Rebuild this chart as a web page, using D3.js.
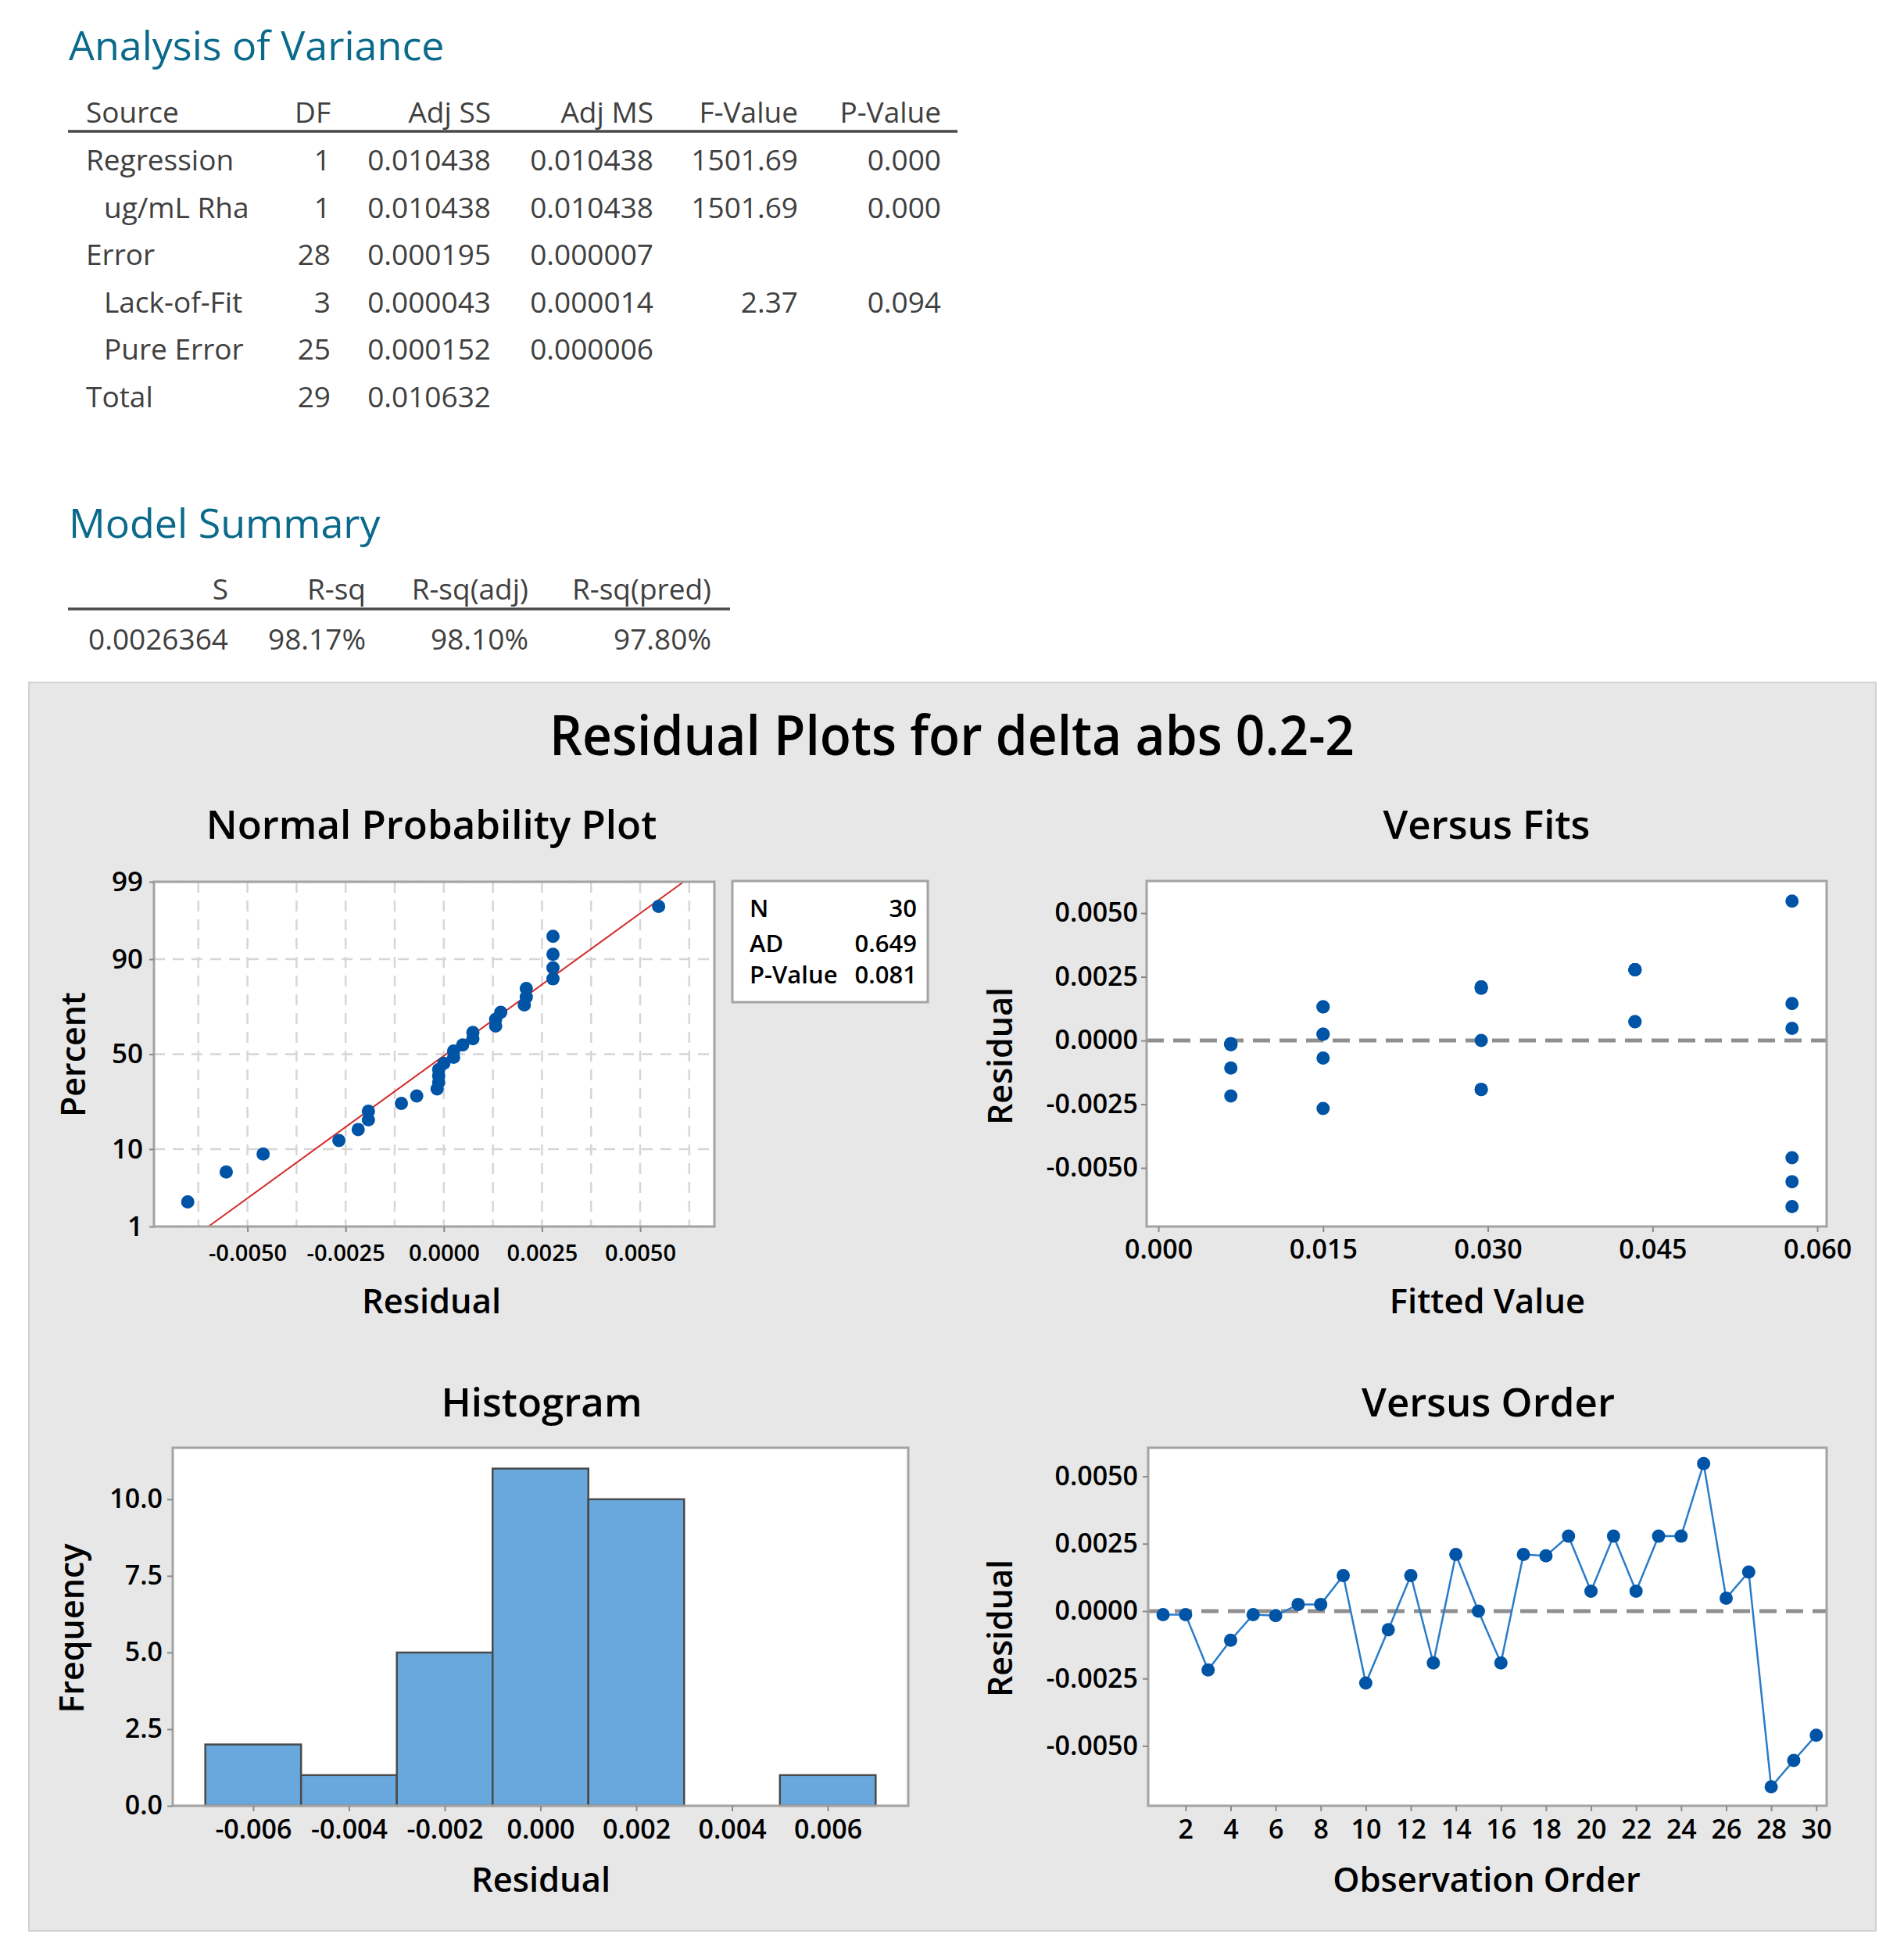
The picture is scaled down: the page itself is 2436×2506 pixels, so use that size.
<!DOCTYPE html>
<html>
<head>
<meta charset="utf-8">
<script src="https://cdn.jsdelivr.net/npm/d3@7"></script>
<style>
  html, body { margin: 0; padding: 0; background: #ffffff; }
  svg { display: block; }
</style>
</head>
<body>
<svg id="chart" width="2436" height="2506"></svg>
<script>
// ---------------- DATA ----------------
const anovaHeaders = ["Source", "DF", "Adj SS", "Adj MS", "F-Value", "P-Value"];
const anovaSource = ["Regression", "ug/mL Rha", "Error", "Lack-of-Fit", "Pure Error", "Total"];
const anovaIndent = [false, true, false, true, true, false];
const anovaDF = ["1", "1", "28", "3", "25", "29"];
const anovaAdjSS = ["0.010438", "0.010438", "0.000195", "0.000043", "0.000152", "0.010632"];
const anovaAdjMS = ["0.010438", "0.010438", "0.000007", "0.000014", "0.000006", ""];
const anovaFValue = ["1501.69", "1501.69", "", "2.37", "", ""];
const anovaPValue = ["0.000", "0.000", "", "0.094", "", ""];

const summaryHeaders = ["S", "R-sq", "R-sq(adj)", "R-sq(pred)"];
const summaryValues = ["0.0026364", "98.17%", "98.10%", "97.80%"];

// residuals in observation order
const residuals = [-0.00013, -0.00013, -0.00218, -0.00108, -0.00013, -0.00017,
                    0.00025,  0.00025,  0.00132, -0.00267, -0.00069,  0.00132,
                   -0.00192,  0.00210,  0.00000, -0.00192,  0.00210,  0.00205,
                    0.00278,  0.00074,  0.00278,  0.00074,  0.00278,  0.00278,
                    0.00547,  0.00048,  0.00145, -0.00652, -0.00554, -0.00460];
// fitted values per observation
const fittedValues = [0.0066, 0.0066, 0.0066, 0.0066, 0.0066, 0.0066,
                      0.0150, 0.0150, 0.0150, 0.0150, 0.0150, 0.0150,
                      0.0294, 0.0294, 0.0294, 0.0294, 0.0294, 0.0294,
                      0.0434, 0.0434, 0.0434, 0.0434, 0.0434, 0.0434,
                      0.0577, 0.0577, 0.0577, 0.0577, 0.0577, 0.0577];

const histBinStart = [-0.007, -0.005, -0.003, -0.001, 0.001, 0.003, 0.005];
const histBinEnd   = [-0.005, -0.003, -0.001, 0.001, 0.003, 0.005, 0.007];
const histCounts   = [2, 1, 5, 11, 10, 0, 1];

const npStatLabels = ["N", "AD", "P-Value"];
const npStatValues = ["30", "0.649", "0.081"];

const npPercentTicks = [1, 10, 50, 90, 99];
const npResidualTicks = [-0.005, -0.0025, 0, 0.0025, 0.005];
const npGridX = [-0.00625, -0.005, -0.00375, -0.0025, -0.00125, 0, 0.00125, 0.0025, 0.00375, 0.005, 0.00625];
const residualTicks = [-0.005, -0.0025, 0, 0.0025, 0.005];
const fitTicks = [0, 0.015, 0.03, 0.045, 0.06];
const histXTicks = [-0.006, -0.004, -0.002, 0, 0.002, 0.004, 0.006];
const histYTicks = [0, 2.5, 5, 7.5, 10];
const orderTicks = [2, 4, 6, 8, 10, 12, 14, 16, 18, 20, 22, 24, 26, 28, 30];

// ---------------- HELPERS ----------------
const FONT = "'Open Sans', 'Noto Sans', 'DejaVu Sans', sans-serif";
const loc = d3.formatLocale({decimal: ".", thousands: ",", grouping: [3], currency: ["$", ""], minus: "-"});
const f4 = loc.format(".4f"), f3 = loc.format(".3f"), f1 = loc.format(".1f");

function probit(p) {
  const a = [-3.969683028665376e+01, 2.209460984245205e+02, -2.759285104469687e+02, 1.383577518672690e+02, -3.066479806614716e+01, 2.506628277459239e+00];
  const b = [-5.447609879822406e+01, 1.615858368580409e+02, -1.556989798598866e+02, 6.680131188771972e+01, -1.328068155288572e+01];
  const c = [-7.784894002430293e-03, -3.223964580411365e-01, -2.400758277161838e+00, -2.549732539343734e+00, 4.374664141464968e+00, 2.938163982698783e+00];
  const d = [7.784695709041462e-03, 3.224671290700398e-01, 2.445134137142996e+00, 3.754408661907416e+00];
  const pl = 0.02425, ph = 1 - pl;
  let q, r;
  if (p < pl) { q = Math.sqrt(-2 * Math.log(p)); return (((((c[0]*q+c[1])*q+c[2])*q+c[3])*q+c[4])*q+c[5]) / ((((d[0]*q+d[1])*q+d[2])*q+d[3])*q+1); }
  if (p <= ph) { q = p - 0.5; r = q*q; return (((((a[0]*r+a[1])*r+a[2])*r+a[3])*r+a[4])*r+a[5])*q / (((((b[0]*r+b[1])*r+b[2])*r+b[3])*r+b[4])*r+1); }
  q = Math.sqrt(-2 * Math.log(1 - p));
  return -(((((c[0]*q+c[1])*q+c[2])*q+c[3])*q+c[4])*q+c[5]) / ((((d[0]*q+d[1])*q+d[2])*q+d[3])*q+1);
}

const svg = d3.select("#chart");
svg.append("rect").attr("width", 2436).attr("height", 2506).attr("fill", "#ffffff");

function txt(g, x, y, s, opts = {}) {
  const t = g.append("text").attr("x", x).attr("y", y).text(s)
    .attr("font-family", FONT)
    .attr("font-size", opts.size || 37)
    .attr("font-weight", opts.weight || 400)
    .attr("fill", opts.fill || "#404040")
    .attr("text-anchor", opts.anchor || "start");
  if (opts.len) t.attr("textLength", opts.len).attr("lengthAdjust", "spacingAndGlyphs");
  return t;
}

// ---------------- ANOVA TABLE ----------------
const tbl = svg.append("g");
const TEAL = "#0b6a8b";
txt(tbl, 88, 77, "Analysis of Variance", {size: 52, fill: TEAL});
const anovaRight = [null, 423, 628, 836, 1021, 1204];
anovaHeaders.forEach((h, i) => {
  if (i === 0) txt(tbl, 110, 157, h);
  else txt(tbl, anovaRight[i], 157, h, {anchor: "end"});
});
tbl.append("line").attr("x1", 87).attr("x2", 1225).attr("y1", 168).attr("y2", 168)
  .attr("stroke", "#4a4a4a").attr("stroke-width", 3.5);
const anovaCols = [anovaDF, anovaAdjSS, anovaAdjMS, anovaFValue, anovaPValue];
const rowY = d3.scaleLinear().domain([0, 5]).range([218, 521]);
anovaSource.forEach((s, r) => {
  txt(tbl, anovaIndent[r] ? 133 : 110, rowY(r), s);
  anovaCols.forEach((col, c) => {
    if (col[r]) txt(tbl, anovaRight[c + 1], rowY(r), col[r], {anchor: "end"});
  });
});

// ---------------- MODEL SUMMARY ----------------
txt(tbl, 88, 688, "Model Summary", {size: 52, fill: TEAL});
const sumRight = [292, 468, 676, 910];
summaryHeaders.forEach((h, i) => txt(tbl, sumRight[i], 767, h, {anchor: "end"}));
tbl.append("line").attr("x1", 87).attr("x2", 934).attr("y1", 779).attr("y2", 779)
  .attr("stroke", "#4a4a4a").attr("stroke-width", 3.5);
summaryValues.forEach((v, i) => txt(tbl, sumRight[i], 831, v, {anchor: "end"}));

// ---------------- GRAPH PANEL ----------------
const panel = svg.append("g");
panel.append("rect").attr("x", 37).attr("y", 873).attr("width", 2363).attr("height", 1597)
  .attr("fill", "#e7e7e7").attr("stroke", "#d2d2d2").attr("stroke-width", 2);
txt(panel, 1218, 966, "Residual Plots for delta abs 0.2-2", {size: 70, weight: 600, fill: "#000", anchor: "middle", len: 1030});

const BLUE = "#0054a6", LINEBLUE = "#2a7cc8", FRAME = "#a3a3a3";
const DOT_R = 8.5;

function styleAxis(g, size) {
  g.select(".domain").remove();
  g.selectAll(".tick line").attr("stroke", "#8a8a8a").attr("stroke-width", 2);
  g.selectAll(".tick text").attr("font-family", FONT).attr("font-size", size)
    .attr("font-weight", 600).attr("fill", "#000");
}
function frame(g, x0, y0, x1, y1) {
  g.append("rect").attr("x", x0).attr("y", y0).attr("width", x1 - x0).attr("height", y1 - y0)
    .attr("fill", "none").attr("stroke", FRAME).attr("stroke-width", 3);
}
function plotBg(g, x0, y0, x1, y1) {
  g.append("rect").attr("x", x0).attr("y", y0).attr("width", x1 - x0).attr("height", y1 - y0).attr("fill", "#ffffff");
}
function yTitle(g, x, y, s) {
  g.append("text").attr("transform", `translate(${x},${y}) rotate(-90)`).text(s)
    .attr("font-family", FONT).attr("font-size", 43).attr("font-weight", 600)
    .attr("fill", "#000").attr("text-anchor", "middle");
}
function xTitle(g, x, y, s) {
  txt(g, x, y, s, {size: 43.5, weight: 600, fill: "#000", anchor: "middle"});
}
function subTitle(g, x, y, s) {
  txt(g, x, y, s, {size: 51, weight: 600, fill: "#000", anchor: "middle"});
}

// ---------- Normal Probability Plot ----------
{
  const g = panel.append("g");
  const L = 197, R = 914, T = 1128, B = 1569;
  subTitle(g, 552, 1073, "Normal Probability Plot");
  plotBg(g, L, T, R, B);
  const x = d3.scaleLinear().domain([-0.00738, 0.00689]).range([L, R]);
  const y = d3.scaleLinear().domain([probit(0.01), probit(0.99)]).range([B, T]);
  g.selectAll(".gx").data(npGridX).join("line")
    .attr("x1", d => x(d)).attr("x2", d => x(d)).attr("y1", T).attr("y2", B)
    .attr("stroke", "#d6d6d6").attr("stroke-width", 2.5).attr("stroke-dasharray", "14,10");
  g.selectAll(".gy").data(npPercentTicks).join("line")
    .attr("x1", L).attr("x2", R).attr("y1", d => y(probit(d / 100))).attr("y2", d => y(probit(d / 100)))
    .attr("stroke", "#d6d6d6").attr("stroke-width", 2.5).attr("stroke-dasharray", "14,10");
  const mu = d3.mean(residuals), sd = d3.deviation(residuals);
  const zs = [probit(0.01), probit(0.99)];
  g.append("line").attr("x1", x(mu + sd * zs[0])).attr("y1", y(zs[0]))
    .attr("x2", x(mu + sd * zs[1])).attr("y2", y(zs[1]))
    .attr("stroke", "#d42a2a").attr("stroke-width", 2);
  const sorted = residuals.slice().sort(d3.ascending);
  const n = sorted.length;
  g.selectAll(".np").data(sorted).join("circle")
    .attr("cx", d => x(d))
    .attr("cy", (d, i) => y(probit((i + 1 - 0.3) / (n + 0.4))))
    .attr("r", DOT_R).attr("fill", BLUE);
  frame(g, L, T, R, B);
  const ax = g.append("g").attr("transform", `translate(0,${B})`)
    .call(d3.axisBottom(x).tickValues(npResidualTicks).tickFormat(f4).tickSize(7).tickPadding(16));
  styleAxis(ax, 29);
  const ay = g.append("g").attr("transform", `translate(${L},0)`)
    .call(d3.axisLeft(y).tickValues(npPercentTicks.map(p => probit(p / 100)))
      .tickFormat((d, i) => String(npPercentTicks[i])).tickSize(6).tickPadding(8));
  styleAxis(ay, 35);
  xTitle(g, 552, 1680, "Residual");
  yTitle(g, 109, 1349, "Percent");
  g.append("rect").attr("x", 937).attr("y", 1127).attr("width", 250).attr("height", 155)
    .attr("fill", "#ffffff").attr("stroke", FRAME).attr("stroke-width", 3);
  const sy = [1173, 1218, 1258];
  npStatLabels.forEach((l, i) => {
    txt(g, 959, sy[i], l, {size: 31, weight: 600, fill: "#000"});
    txt(g, 1173, sy[i], npStatValues[i], {size: 31, weight: 600, fill: "#000", anchor: "end"});
  });
}

// ---------- Versus Fits ----------
{
  const g = panel.append("g");
  const L = 1467, R = 2337, T = 1127, B = 1569;
  subTitle(g, 1902, 1073, "Versus Fits");
  plotBg(g, L, T, R, B);
  const x = d3.scaleLinear().domain([-0.00107, 0.06085]).range([L, R]);
  const y = d3.scaleLinear().domain([-0.0073, 0.00626]).range([B, T]);
  g.append("line").attr("x1", L).attr("x2", R).attr("y1", y(0)).attr("y2", y(0))
    .attr("stroke", "#8f8f8f").attr("stroke-width", 5).attr("stroke-dasharray", "22,12");
  g.selectAll(".vf").data(residuals).join("circle")
    .attr("cx", (d, i) => x(fittedValues[i])).attr("cy", d => y(d))
    .attr("r", DOT_R).attr("fill", BLUE);
  frame(g, L, T, R, B);
  const ax = g.append("g").attr("transform", `translate(0,${B})`)
    .call(d3.axisBottom(x).tickValues(fitTicks).tickFormat(f3).tickSize(7).tickPadding(10));
  styleAxis(ax, 34);
  const ay = g.append("g").attr("transform", `translate(${L},0)`)
    .call(d3.axisLeft(y).tickValues(residualTicks).tickFormat(f4).tickSize(7).tickPadding(4));
  styleAxis(ay, 34);
  xTitle(g, 1903, 1680, "Fitted Value");
  yTitle(g, 1295, 1351, "Residual");
}

// ---------- Histogram ----------
{
  const g = panel.append("g");
  const L = 221, R = 1162, T = 1852, B = 2310;
  subTitle(g, 693, 1812, "Histogram");
  plotBg(g, L, T, R, B);
  const x = d3.scaleLinear().domain([-0.00768, 0.00768]).range([L, R]);
  const y = d3.scaleLinear().domain([0, 11.68]).range([B, T]);
  g.selectAll(".bar").data(histCounts).join("rect")
    .attr("x", (d, i) => x(histBinStart[i]))
    .attr("width", (d, i) => x(histBinEnd[i]) - x(histBinStart[i]))
    .attr("y", d => y(d)).attr("height", d => B - y(d))
    .attr("fill", "#68a8dc").attr("stroke", "#4a4a4a").attr("stroke-width", 2.5);
  frame(g, L, T, R, B);
  const ax = g.append("g").attr("transform", `translate(0,${B})`)
    .call(d3.axisBottom(x).tickValues(histXTicks).tickFormat(f3).tickSize(7).tickPadding(11));
  styleAxis(ax, 34);
  const ay = g.append("g").attr("transform", `translate(${L},0)`)
    .call(d3.axisLeft(y).tickValues(histYTicks).tickFormat(f1).tickSize(7).tickPadding(6));
  styleAxis(ay, 34);
  xTitle(g, 692, 2420, "Residual");
  yTitle(g, 107, 2083, "Frequency");
}

// ---------- Versus Order ----------
{
  const g = panel.append("g");
  const L = 1469, R = 2337, T = 1852, B = 2310;
  subTitle(g, 1904, 1812, "Versus Order");
  plotBg(g, L, T, R, B);
  const x = d3.scaleLinear().domain([0.34, 30.46]).range([L, R]);
  const y = d3.scaleLinear().domain([-0.00722, 0.00606]).range([B, T]);
  g.append("line").attr("x1", L).attr("x2", R).attr("y1", y(0)).attr("y2", y(0))
    .attr("stroke", "#8f8f8f").attr("stroke-width", 5).attr("stroke-dasharray", "22,12");
  const line = d3.line().x((d, i) => x(i + 1)).y(d => y(d));
  g.append("path").datum(residuals).attr("d", line)
    .attr("fill", "none").attr("stroke", LINEBLUE).attr("stroke-width", 2.5);
  g.selectAll(".vo").data(residuals).join("circle")
    .attr("cx", (d, i) => x(i + 1)).attr("cy", d => y(d))
    .attr("r", DOT_R).attr("fill", BLUE);
  frame(g, L, T, R, B);
  const ax = g.append("g").attr("transform", `translate(0,${B})`)
    .call(d3.axisBottom(x).tickValues(orderTicks).tickFormat(d3.format("d")).tickSize(7).tickPadding(11));
  styleAxis(ax, 34);
  const ay = g.append("g").attr("transform", `translate(${L},0)`)
    .call(d3.axisLeft(y).tickValues(residualTicks).tickFormat(f4).tickSize(7).tickPadding(6));
  styleAxis(ay, 34);
  xTitle(g, 1902, 2420, "Observation Order");
  yTitle(g, 1295, 2083, "Residual");
}
</script>
</body>
</html>
